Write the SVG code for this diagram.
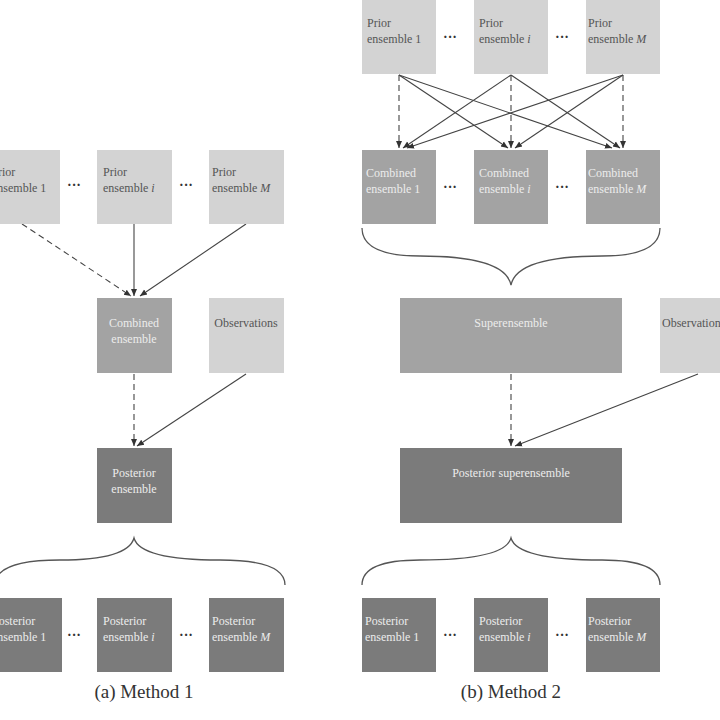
<svg xmlns="http://www.w3.org/2000/svg" width="720" height="720" viewBox="0 0 720 720">
<style>
.l{fill:#d3d3d3}.m{fill:#a3a3a3}.d{fill:#7b7b7b}
text{font-family:"Liberation Serif",serif;font-size:12px}
.tl{fill:#555}.tw{fill:#ececec}
.dots{font-size:14px;fill:#333;font-weight:bold}
.c{stroke:#444;stroke-width:1.1;fill:none;marker-end:url(#a)}
.ds{stroke-dasharray:6,4}
.br{stroke:#555;stroke-width:1.3;fill:none}
.cap{font-size:19px;fill:#333;text-anchor:middle}
</style>
<defs><marker id="a" markerWidth="8" markerHeight="8" refX="7" refY="4" orient="auto" markerUnits="userSpaceOnUse"><path d="M0,1 L7,4 L0,7z" fill="#333"/></marker></defs>
<rect width="720" height="720" fill="#fff"/>
<g id="connectors">
<line class="c ds" x1="22" y1="224" x2="131" y2="296"/>
<line class="c" x1="134" y1="224" x2="134" y2="296"/>
<line class="c" x1="246" y1="224" x2="140" y2="296"/>
<line class="c ds" x1="134" y1="374" x2="134" y2="446"/>
<line class="c" x1="246" y1="374" x2="137" y2="446"/>
<line class="c ds" x1="399" y1="75" x2="399" y2="148"/>
<line class="c" x1="399" y1="75" x2="508" y2="148"/>
<line class="c" x1="399" y1="75" x2="612" y2="148"/>
<line class="c" x1="511" y1="75" x2="403" y2="148"/>
<line class="c ds" x1="511" y1="75" x2="511" y2="148"/>
<line class="c" x1="511" y1="75" x2="620" y2="148"/>
<line class="c" x1="623" y1="75" x2="407" y2="148"/>
<line class="c" x1="623" y1="75" x2="515" y2="148"/>
<line class="c ds" x1="623" y1="75" x2="623" y2="148"/>
<line class="c ds" x1="511" y1="374" x2="511" y2="446"/>
<line class="c" x1="698" y1="374" x2="515" y2="446"/>
<path class="br" d="M362,228 Q362,256 420,256 Q505,256 511,285 Q517,256 602,256 Q660,256 660,228"/>
<path class="br" d="M-5,585 Q-5,560 60,560 Q128,560 134,538 Q140,560 220,560 Q285,560 285,585"/>
<path class="br" d="M362,585 Q362,560 420,560 Q505,560 511,538 Q517,560 602,560 Q660,560 660,585"/>
</g>
<g id="a-prior1"><rect class="l" x="-15" y="150" width="75" height="74"/><text class="tl" x="-2" y="176">rior</text><text class="tl" x="-8" y="192">ensemble 1</text></g>
<text class="dots" x="67" y="190">···</text>
<g id="a-priori"><rect class="l" x="97" y="150" width="75" height="74"/><text class="tl" x="103" y="176">Prior</text><text class="tl" x="103" y="192">ensemble <tspan font-style="italic">i</tspan></text></g>
<text class="dots" x="179" y="190">···</text>
<g id="a-priorM"><rect class="l" x="209" y="150" width="75" height="74"/><text class="tl" x="212" y="176">Prior</text><text class="tl" x="212" y="192">ensemble <tspan font-style="italic">M</tspan></text></g>
<g id="a-combined"><rect class="m" x="97" y="298" width="75" height="75"/><text class="tw" x="134" y="327" text-anchor="middle">Combined</text><text class="tw" x="134" y="343" text-anchor="middle">ensemble</text></g>
<g id="a-obs"><rect class="l" x="209" y="298" width="75" height="75"/><text class="tl" x="246" y="327" text-anchor="middle">Observations</text></g>
<g id="a-post"><rect class="d" x="97" y="448" width="75" height="75"/><text class="tw" x="134" y="477" text-anchor="middle">Posterior</text><text class="tw" x="134" y="493" text-anchor="middle">ensemble</text></g>
<g id="a-post1"><rect class="d" x="-13" y="598" width="75" height="74"/><text class="tw" x="-8" y="625">Posterior</text><text class="tw" x="-8" y="641">ensemble 1</text></g>
<text class="dots" x="67" y="640">···</text>
<g id="a-posti"><rect class="d" x="97" y="598" width="75" height="74"/><text class="tw" x="103" y="625">Posterior</text><text class="tw" x="103" y="641">ensemble <tspan font-style="italic">i</tspan></text></g>
<text class="dots" x="179" y="640">···</text>
<g id="a-postM"><rect class="d" x="209" y="598" width="75" height="74"/><text class="tw" x="212" y="625">Posterior</text><text class="tw" x="212" y="641">ensemble <tspan font-style="italic">M</tspan></text></g>
<text class="cap" x="144" y="698">(a) Method 1</text>

<g id="b-prior1"><rect class="l" x="362" y="0" width="74" height="74"/><text class="tl" x="367" y="27">Prior</text><text class="tl" x="367" y="43">ensemble 1</text></g>
<text class="dots" x="443" y="42">···</text>
<g id="b-priori"><rect class="l" x="474" y="0" width="74" height="74"/><text class="tl" x="479" y="27">Prior</text><text class="tl" x="479" y="43">ensemble <tspan font-style="italic">i</tspan></text></g>
<text class="dots" x="555" y="42">···</text>
<g id="b-priorM"><rect class="l" x="586" y="0" width="74" height="74"/><text class="tl" x="588" y="27">Prior</text><text class="tl" x="588" y="43">ensemble <tspan font-style="italic">M</tspan></text></g>
<g id="b-comb1"><rect class="m" x="362" y="150" width="74" height="74"/><text class="tw" x="366" y="177">Combined</text><text class="tw" x="366" y="193">ensemble 1</text></g>
<text class="dots" x="443" y="192">···</text>
<g id="b-combi"><rect class="m" x="474" y="150" width="74" height="74"/><text class="tw" x="479" y="177">Combined</text><text class="tw" x="479" y="193">ensemble <tspan font-style="italic">i</tspan></text></g>
<text class="dots" x="555" y="192">···</text>
<g id="b-combM"><rect class="m" x="586" y="150" width="74" height="74"/><text class="tw" x="588" y="177">Combined</text><text class="tw" x="588" y="193">ensemble <tspan font-style="italic">M</tspan></text></g>
<g id="b-super"><rect class="m" x="400" y="298" width="222" height="75"/><text class="tw" x="511" y="327" text-anchor="middle">Superensemble</text></g>
<g id="b-obs"><rect class="l" x="660" y="298" width="70" height="75"/><text class="tl" x="662" y="327">Observations</text></g>
<g id="b-postsuper"><rect class="d" x="400" y="448" width="222" height="75"/><text class="tw" x="511" y="477" text-anchor="middle">Posterior superensemble</text></g>
<g id="b-post1"><rect class="d" x="362" y="598" width="74" height="74"/><text class="tw" x="365" y="625">Posterior</text><text class="tw" x="365" y="641">ensemble 1</text></g>
<text class="dots" x="443" y="640">···</text>
<g id="b-posti"><rect class="d" x="474" y="598" width="74" height="74"/><text class="tw" x="479" y="625">Posterior</text><text class="tw" x="479" y="641">ensemble <tspan font-style="italic">i</tspan></text></g>
<text class="dots" x="555" y="640">···</text>
<g id="b-postM"><rect class="d" x="586" y="598" width="74" height="74"/><text class="tw" x="588" y="625">Posterior</text><text class="tw" x="588" y="641">ensemble <tspan font-style="italic">M</tspan></text></g>
<text class="cap" x="511" y="698">(b) Method 2</text>
</svg>
